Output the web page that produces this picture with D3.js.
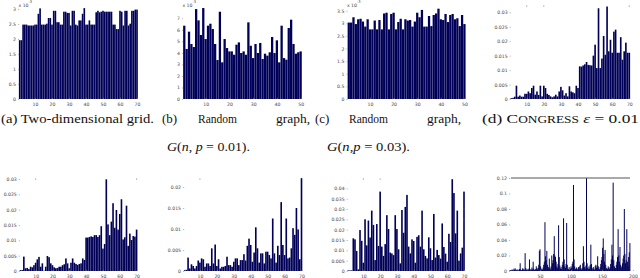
<!DOCTYPE html>
<html>
<head>
<meta charset="utf-8">
<script src="https://cdn.jsdelivr.net/npm/d3@7"></script>
<style>
  body { margin: 0; background: #fff; }
  svg { display: block; }
</style>
</head>
<body>
<script>
// ---- data ----
// top row: (a) grid, values x10^-3
const gridValues = [
  1.96,1.96,2.48,2.48,2.48,2.45,2.45,2.45,2.45,2.48,
  2.48,2.84,3.02,2.48,2.48,2.48,2.51,2.70,2.70,2.48,
  2.94,2.94,2.56,2.56,2.48,2.48,2.91,2.91,2.87,2.87,
  2.45,2.94,2.94,2.48,2.45,2.62,2.62,2.84,3.03,2.48,
  2.48,2.62,2.48,2.48,2.48,2.89,2.94,2.89,2.91,2.94,
  2.91,2.91,2.91,2.91,2.91,2.48,2.48,2.33,2.33,2.94,
  2.91,2.45,2.94,2.94,2.45,2.51,2.94,2.94,2.98,2.98];
// (b) random graph p=0.01, x10^-3
const randomP01Values = [
  6.36,4.34,5.84,4.77,4.51,7.80,6.82,5.55,7.89,5.20,
  6.36,6.53,6.07,4.77,3.38,7.57,3.18,5.20,4.42,4.13,
  4.13,3.84,4.71,4.91,3.99,4.13,3.84,6.65,4.62,3.55,
  4.77,3.99,4.86,3.47,3.93,3.76,4.05,5.38,3.99,5.09,
  3.18,6.36,3.55,3.41,6.16,6.88,4.77,3.93,4.05,4.13];
// (c) random graph p=0.03, x10^-3
const randomP03Values = [
  3.03,3.03,3.24,2.97,3.16,3.18,3.07,2.87,3.16,2.76,
  2.76,3.11,2.76,3.13,2.76,3.39,3.42,2.76,3.37,3.42,
  2.76,3.05,3.18,2.76,3.16,3.11,3.13,2.87,3.07,3.42,
  3.24,3.53,2.87,2.87,3.29,2.89,3.33,3.39,3.58,3.16,
  3.13,3.37,3.05,3.33,3.37,3.16,3.20,2.89,3.33,2.97];
// (d) CONGRESS eps = 0.01, in thousandths
const congressValues = [
  0.3,0.4,0.8,4.6,0.8,1.2,0.8,0.8,1.8,1.8,
  2.6,2.0,3.8,4.6,1.5,2.6,1.4,4.6,0.9,4.6,
  3.8,1.8,1.4,0.9,0.6,0.9,1.5,0.9,2.6,4.2,
  3.0,1.2,2.0,0.9,4.4,2.6,2.3,2.0,4.6,3.8,
  11.3,11.2,11.6,12.0,12.8,11.8,11.7,11.6,15.0,18.8,
  10.7,31.4,10.7,14.0,21.8,15.3,32.0,16.5,20.5,16.0,
  23.3,24.0,16.0,16.0,21.4,13.6,16.5,19.5,16.0,16.0];
// bottom row, in thousandths
const panelEValues = [
  0.3,0.3,4.7,0.9,1.0,0.6,1.4,1.2,1.9,2.7,
  3.8,4.6,1.4,2.5,0.1,1.4,4.9,4.5,2.5,1.9,
  1.2,0.9,1.0,1.4,1.4,1.9,2.2,4.1,2.5,0.9,
  2.7,4.1,2.7,2.3,2.0,2.3,2.5,4.1,3.6,10.9,
  10.9,11.1,11.3,11.1,11.7,11.7,11.1,11.7,14.6,7.3,
  8.8,29.9,15.2,11.7,16.1,22.1,14.1,19.9,13.5,18.6,
  23.4,10.3,11.0,21.3,8.2,12.2,10.1,11.4,11.2,13.5];
const panelFValues = [
  0.2,0.3,3.2,0.6,1.6,1.2,0.6,1.2,2.5,2.0,
  3.0,2.8,1.0,1.8,1.8,1.2,5.4,1.8,6.3,1.2,
  2.8,0.6,1.0,1.0,1.2,3.4,1.4,1.4,1.0,2.2,
  3.0,3.0,1.4,2.6,2.6,4.0,2.5,6.0,7.7,6.2,
  2.2,4.4,10.4,5.4,2.0,4.2,4.2,1.8,4.6,4.6,
  3.8,3.0,12.5,4.2,2.0,6.0,3.8,16.4,6.2,3.8,
  12.5,3.0,3.2,5.4,10.2,8.6,15.0,9.9,2.8,22.1];
const panelGValues = [
  0.3,0.3,0.3,15.8,15.3,9.7,0.8,19.8,14.6,4.0,
  25.0,12.4,24.4,16.2,29.2,22.3,5.3,22.7,12.1,38.4,
  11.8,7.3,13.0,27.0,20.3,8.9,8.5,7.7,27.0,20.3,
  10.5,3.7,29.5,18.5,31.0,36.8,11.8,8.5,15.3,14.5,
  4.0,16.5,17.3,11.8,29.2,10.5,7.3,6.1,16.3,11.0,
  5.3,27.6,6.5,10.2,7.7,6.0,23.0,11.6,8.4,4.5,
  18.0,14.0,44.4,37.7,18.2,29.2,5.0,8.5,11.3,38.4];
const panelHValues = [
  0.5,0.8,1.2,0.6,2.0,1.0,0.7,3.0,1.5,3.4,
  1.2,0.8,2.2,1.0,0.6,1.8,2.5,10,2.0,1.2,
  0.8,3.5,1.5,2.8,1.0,23,4.0,1.5,2.2,0.8,
  3.0,1.2,15,2.5,1.0,1.8,4.5,2.0,12,3.0,
  1.5,0.8,2.5,6.0,3.5,2.0,4.0,8.0,26,28,
  6.0,3.0,1.5,2.0,4.5,8.0,12,63,19,14,
  26,8,3,5,16,4,2,6,20,10,
  14,22,45,20,18,12,6,4,9,59,
  18,7,3,5,2.5,8,12,68,15,6,
  4,9,62,8,3,2,5,1.5,3,6,
  4,9,12,111,15,6,3,2,4.5,1.5,
  3,5,2,6,8,3,1.8,4,10,32,
  12,5,3,7,120,10,4,2.5,6,3,
  8,34,9,4,2,5,3,1.5,6,8,
  4,7,19,6,3,2,5,9,14,18,
  30,42,22,12,27,8,4,2,3,6,
  4,2.5,5,9,15,34,20,114,14,6,
  3,4,8,12,18,54,20,12,31,8,
  4,6,10,16,20,80,22,10,14,54,
  12,6,18,24,36];

// tick values
const xTicks70 = [10, 20, 30, 40, 50, 60, 70];
const xTicks50 = [10, 20, 30, 40, 50];
const xTicks200 = [50, 100, 150, 200];
const yTicksGrid = [0, 0.5, 1, 1.5, 2, 2.5, 3];
const yTicksP01 = [0, 1, 2, 3, 4, 5, 6, 7];
const yTicksP03 = [0, 0.5, 1, 1.5, 2, 2.5, 3, 3.5];
const yTicks30 = [0, 5, 10, 15, 20, 25, 30];
const yTicks20 = [0, 5, 10, 15, 20];
const yTicks40 = [0, 5, 10, 15, 20, 25, 30, 35, 40];
const yTicks120 = [0, 20, 40, 60, 80, 100, 120];

const BAR = '#000058';
const plain = d => String(d);
const milli = d => String(+(d / 1000).toFixed(4));

const svg = d3.select('body').append('svg')
  .attr('width', 640)
  .attr('height', 278);

function drawPanel(o) {
  const x = d3.scaleLinear().domain(o.xDomain).range(o.xRange);
  const y = d3.scaleLinear().domain(o.yDomain).range(o.yRange);
  const g = svg.append('g');
  const bw = Math.abs(x(o.barWidth || 0.96) - x(0));

  g.selectAll('rect')
    .data(o.values)
    .join('rect')
      .attr('x', (d, i) => x(i + 1) - bw / 2)
      .attr('y', d => y(d))
      .attr('width', bw)
      .attr('height', d => y(0) - y(d))
      .attr('fill', BAR);

  const xa = g.append('g')
    .attr('transform', `translate(0,${o.yRange[0]})`)
    .call(d3.axisBottom(x).tickValues(o.xTicks).tickFormat(plain)
      .tickSizeInner(-1.2).tickSizeOuter(0).tickPadding(3.3));
  const ya = g.append('g')
    .attr('transform', `translate(${o.xRange[0]},0)`)
    .call(d3.axisLeft(y).tickValues(o.yTicks).tickFormat(o.fmt)
      .tickSizeInner(-1.2).tickSizeOuter(0).tickPadding(2));

  [xa, ya].forEach(a => {
    a.attr('font-size', 4.6).attr('font-family', 'DejaVu Sans');
    a.select('.domain').remove();
    a.selectAll('.tick line').attr('stroke', '#888').attr('stroke-width', 0.6);
    a.selectAll('.tick text').attr('fill', '#444');
  });

  // small box ticks along the top / right that show in the original
  (o.topMarks || []).forEach(t => {
    g.append('line')
      .attr('x1', x(t)).attr('x2', x(t))
      .attr('y1', o.topY).attr('y2', o.topY + 1.2)
      .attr('stroke', '#666').attr('stroke-width', 0.7);
  });
  (o.rightMarks || []).forEach(t => {
    g.append('line')
      .attr('x1', o.xRange[1] + 0.5).attr('x2', o.xRange[1] - 0.7)
      .attr('y1', y(t)).attr('y2', y(t))
      .attr('stroke', '#666').attr('stroke-width', 0.7);
  });

  if (o.topLine) {
    g.append('line')
      .attr('x1', o.xRange[0] + 2).attr('x2', o.xRange[1] - 3)
      .attr('y1', y(o.yDomain[1])).attr('y2', y(o.yDomain[1]))
      .attr('stroke', '#555').attr('stroke-width', 1);
  }

  if (o.exponent) {
    const t = g.append('text')
      .attr('x', o.xRange[0] + 0.5).attr('y', 7)
      .attr('font-size', 4.6).attr('font-family', 'DejaVu Sans')
      .attr('fill', '#444');
    t.append('tspan').text('x 10');
    t.append('tspan').attr('dy', -4).attr('font-size', 3.6).text(o.exponent);
  }
}

// top row
drawPanel({ values: gridValues, xDomain: [0, 70], xRange: [18, 137],
  yDomain: [0, 3], yRange: [99, 9], xTicks: xTicks70, yTicks: yTicksGrid,
  fmt: plain, exponent: '-3' });
drawPanel({ values: randomP01Values, xDomain: [0, 51], xRange: [181.9, 303],
  yDomain: [0, 7], yRange: [99, 18.3], xTicks: xTicks50, yTicks: yTicksP01,
  fmt: plain, exponent: '-3' });
drawPanel({ values: randomP03Values, xDomain: [0, 51], xRange: [346.4, 466.8],
  yDomain: [0, 3.5], yRange: [99, 10.7], xTicks: xTicks50, yTicks: yTicksP03,
  fmt: plain, exponent: '-3' });
drawPanel({ values: congressValues, xDomain: [0, 70], xRange: [509.6, 629.3],
  yDomain: [0, 30], yRange: [99, 12.3], xTicks: xTicks70, yTicks: yTicks30,
  fmt: milli, topMarks: [10, 20, 70], topY: 5.5 });

// bottom row
drawPanel({ values: panelEValues, xDomain: [0, 70], xRange: [18.8, 136.6],
  yDomain: [0, 30], yRange: [271, 179], xTicks: xTicks70, yTicks: yTicks30,
  fmt: milli, topMarks: [10, 70], topY: 178.5 });
drawPanel({ values: panelFValues, xDomain: [0, 70], xRange: [183, 301.5],
  yDomain: [0, 20], yRange: [271, 187], xTicks: xTicks70, yTicks: yTicks20,
  fmt: milli, topMarks: [10], topY: 178.5 });
drawPanel({ values: panelGValues, xDomain: [0, 70], xRange: [346.6, 464],
  yDomain: [0, 40], yRange: [271, 188.3], xTicks: xTicks70, yTicks: yTicks40,
  fmt: milli, topMarks: [10, 20], topY: 178.5, rightMarks: [25, 30] });
drawPanel({ values: panelHValues, xDomain: [0, 200], xRange: [509, 633],
  yDomain: [0, 120], yRange: [271, 178], xTicks: xTicks200, yTicks: yTicks120,
  fmt: milli, topLine: true, barWidth: 1.6 });

// ---- captions ----
const cap = svg.append('g')
  .attr('font-family', "'Liberation Serif', 'DejaVu Serif', serif")
  .attr('font-size', 13)
  .attr('fill', '#111');

function word(x, y, s, len) {
  const t = cap.append('text').attr('x', x).attr('y', y).text(s);
  if (len) t.attr('textLength', len).attr('lengthAdjust', 'spacingAndGlyphs');
  return t;
}
word(1, 123, '(a) Two-dimensional grid.', 153);
word(162, 123, '(b)');
word(198, 123, 'Random', 39);
word(276, 123, 'graph,', 34);
word(315, 123, '(c)');
word(349, 123, 'Random', 39);
word(427, 123, 'graph,', 34);

function gLine(x, y, inner, len) {
  const t = cap.append('text').attr('x', x).attr('y', y)
    .attr('textLength', len).attr('lengthAdjust', 'spacingAndGlyphs');
  t.append('tspan').attr('font-style', 'italic').text('G');
  t.append('tspan').text('(');
  t.append('tspan').attr('font-style', 'italic').text('n');
  t.append('tspan').text(inner[0]);
  t.append('tspan').attr('font-style', 'italic').text('p');
  t.append('tspan').text(inner[1]);
}
gLine(167, 151, [', ', ' = 0.01).'], 83);
gLine(327, 151, [',', ' = 0.03).'], 83);

const dCap = cap.append('text').attr('x', 482).attr('y', 123)
  .attr('textLength', 157).attr('lengthAdjust', 'spacingAndGlyphs');
dCap.append('tspan').text('(d) C');
dCap.append('tspan').attr('font-size', 10).text('ONGRESS');
dCap.append('tspan').text(' ');
dCap.append('tspan').attr('font-style', 'italic').text('\u03b5');
dCap.append('tspan').text(' = 0.01');
</script>
</body>
</html>
